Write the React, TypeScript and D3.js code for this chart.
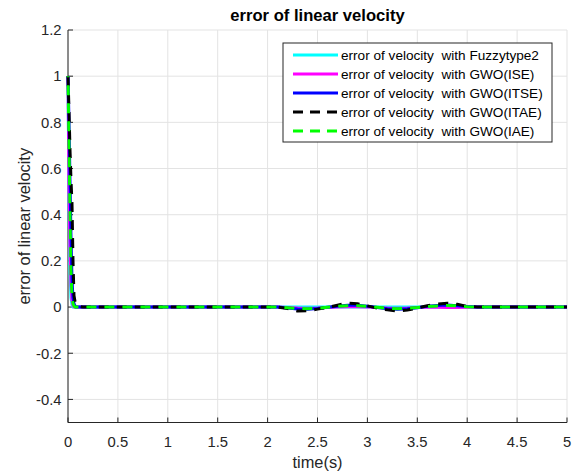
import React from "react";
import * as d3 from "d3";

const time = [0, 0.01, 0.02, 0.03, 0.04, 0.05, 0.06, 0.07, 0.08, 0.1, 0.15, 0.5, 1.0, 1.5, 2.0, 2.1, 2.2, 2.3, 2.4, 2.5, 2.6, 2.7, 2.8, 2.9, 3.0, 3.1, 3.2, 3.3, 3.4, 3.5, 3.6, 3.7, 3.8, 3.9, 4.0, 4.1, 4.5, 5.0];

const fuzzy = [1, 0.45, 0.15, 0.04, 0.01, 0, 0, 0, 0, 0, 0, 0, 0, 0, 0, 0, 0, 0, 0, 0, 0, 0, 0, 0, 0, 0, 0, 0, 0, 0, 0, 0, 0, 0, 0, 0, 0, 0];
const gwoIse = [1, 0.5, 0.25, 0.1, 0.03, 0.008, 0, 0, 0, 0, 0, 0, 0, 0, 0, 0, -0.002, -0.004, -0.005, -0.004, -0.002, 0, 0.001, 0.001, 0, -0.002, -0.004, -0.005, -0.004, -0.002, 0, -0.001, -0.002, -0.002, -0.001, 0, 0, 0];
const gwoItse = [1, 0.8, 0.55, 0.3, 0.12, 0.04, 0.015, 0.005, 0, 0, 0, 0, 0, 0, 0, 0, -0.004, -0.008, -0.009, -0.006, -0.001, 0.004, 0.008, 0.008, 0.004, -0.002, -0.007, -0.009, -0.007, -0.003, 0.003, 0.007, 0.009, 0.006, 0.002, 0, 0, 0];
const gwoItae = [1, 0.85, 0.68, 0.55, 0.45, 0.2, 0.05, 0.025, 0.015, 0.003, 0, 0, 0, 0, 0, 0, -0.006, -0.017, -0.016, -0.009, -0.002, 0.008, 0.017, 0.014, 0.005, -0.005, -0.012, -0.017, -0.013, -0.004, 0.006, 0.013, 0.017, 0.012, 0.003, 0, 0, 0];
const gwoIae = [1, 0.7, 0.4, 0.15, 0.05, 0.015, 0.005, 0, 0, 0, 0, 0, 0, 0, 0, 0, -0.003, -0.006, -0.007, -0.005, -0.001, 0.003, 0.006, 0.006, 0.003, -0.001, -0.005, -0.007, -0.005, -0.002, 0.002, 0.005, 0.007, 0.005, 0.001, 0, 0, 0];

const xTicks = [0, 0.5, 1, 1.5, 2, 2.5, 3, 3.5, 4, 4.5, 5];
const yTicks = [-0.4, -0.2, 0, 0.2, 0.4, 0.6, 0.8, 1, 1.2];

const seriesNames = [
  "error of velocity  with Fuzzytype2",
  "error of velocity  with GWO(ISE)",
  "error of velocity  with GWO(ITSE)",
  "error of velocity  with GWO(ITAE)",
  "error of velocity  with GWO(IAE)",
];
const seriesValues = [fuzzy, gwoIse, gwoItse, gwoItae, gwoIae];
const seriesColors = ["#00ffff", "#ff00ff", "#0000ff", "#000000", "#00ff00"];
const seriesDash = [null, null, null, "10 8", "10 8"];
const seriesOffset = [0, 0, 0, 0, 9];

export default function App() {
  const W = 574, H = 475;
  const left = 68, right = 567, top = 30, bottom = 422.5;
  const x = d3.scaleLinear().domain([0, 5]).range([left, right]);
  const y = d3.scaleLinear().domain([-0.5, 1.2]).range([bottom, top]);
  const axisColor = "#262626";
  const gridColor = "#e3e3e3";
  const font = "Liberation Sans, Arial, sans-serif";

  const line = (vals: number[]) =>
    d3.line<number>()
      .x((_, i) => x(time[i]))
      .y((d) => y(d))(vals) as string;

  const legX = 283, legY = 43, legW = 269, legH = 99, rowH = 19;

  return (
    <svg width={W} height={H} style={{ position: "absolute", left: 0, top: 0, background: "#fff" }} fontFamily={font}>
      <rect x={0} y={0} width={W} height={H} fill="#fff" />
      <defs>
        <clipPath id="clip">
          <rect x={left - 2} y={top} width={right - left + 4} height={bottom - top} />
        </clipPath>
      </defs>
      {/* grid */}
      {xTicks.map((t) => (
        <line key={"gx" + t} x1={x(t)} x2={x(t)} y1={top} y2={bottom} stroke={gridColor} strokeWidth={1} />
      ))}
      {yTicks.map((t) => (
        <line key={"gy" + t} x1={left} x2={right} y1={y(t)} y2={y(t)} stroke={gridColor} strokeWidth={1} />
      ))}
      {/* axes */}
      <line x1={left} x2={left} y1={top} y2={bottom} stroke={axisColor} strokeWidth={1} />
      <line x1={left} x2={right} y1={bottom} y2={bottom} stroke={axisColor} strokeWidth={1} />
      {xTicks.map((t) => (
        <g key={"xt" + t}>
          <line x1={x(t)} x2={x(t)} y1={bottom} y2={bottom - 5} stroke={axisColor} />
          <text x={x(t)} y={447} textAnchor="middle" fontSize={14.8} fill={axisColor}>{t}</text>
        </g>
      ))}
      {yTicks.map((t) => (
        <g key={"yt" + t}>
          <line x1={left} x2={left + 5} y1={y(t)} y2={y(t)} stroke={axisColor} />
          <text x={61.5} y={y(t) + 5.3} textAnchor="end" fontSize={14.8} fill={axisColor}>{t}</text>
        </g>
      ))}
      {/* data */}
      <g clipPath="url(#clip)">
        {seriesValues.map((vals, i) => (
          <path key={i} d={line(vals)} fill="none" stroke={seriesColors[i]} strokeWidth={3}
            strokeDasharray={seriesDash[i] ?? undefined} strokeDashoffset={seriesOffset[i]} strokeLinejoin="round" />
        ))}
      </g>
      <text x={(left + right) / 2} y={468} textAnchor="middle" fontSize={16.4} fill={axisColor}>time(s)</text>
      <text transform={`translate(30,${(top + bottom) / 2}) rotate(-90)`} textAnchor="middle" fontSize={16.4} fill={axisColor}>error of linear velocity</text>
      <text x={(left + right) / 2} y={21} textAnchor="middle" fontSize={16.6} fontWeight="bold" fill="#000">error of linear velocity</text>
      {/* legend */}
      <rect x={legX} y={legY} width={legW} height={legH} fill="#fff" stroke={axisColor} strokeWidth={1} />
      {seriesNames.map((n, i) => {
        const ly = legY + 12 + i * rowH;
        return (
          <g key={"lg" + i}>
            <line x1={legX + 10} x2={legX + 55} y1={ly} y2={ly} stroke={seriesColors[i]} strokeWidth={3}
              strokeDasharray={seriesDash[i] ? "10 7" : undefined} />
            <text x={legX + 58} y={ly + 4.8} fontSize={13.6} fill="#000" xmlSpace="preserve" style={{ whiteSpace: "pre" }}>{n}</text>
          </g>
        );
      })}
    </svg>
  );
}
